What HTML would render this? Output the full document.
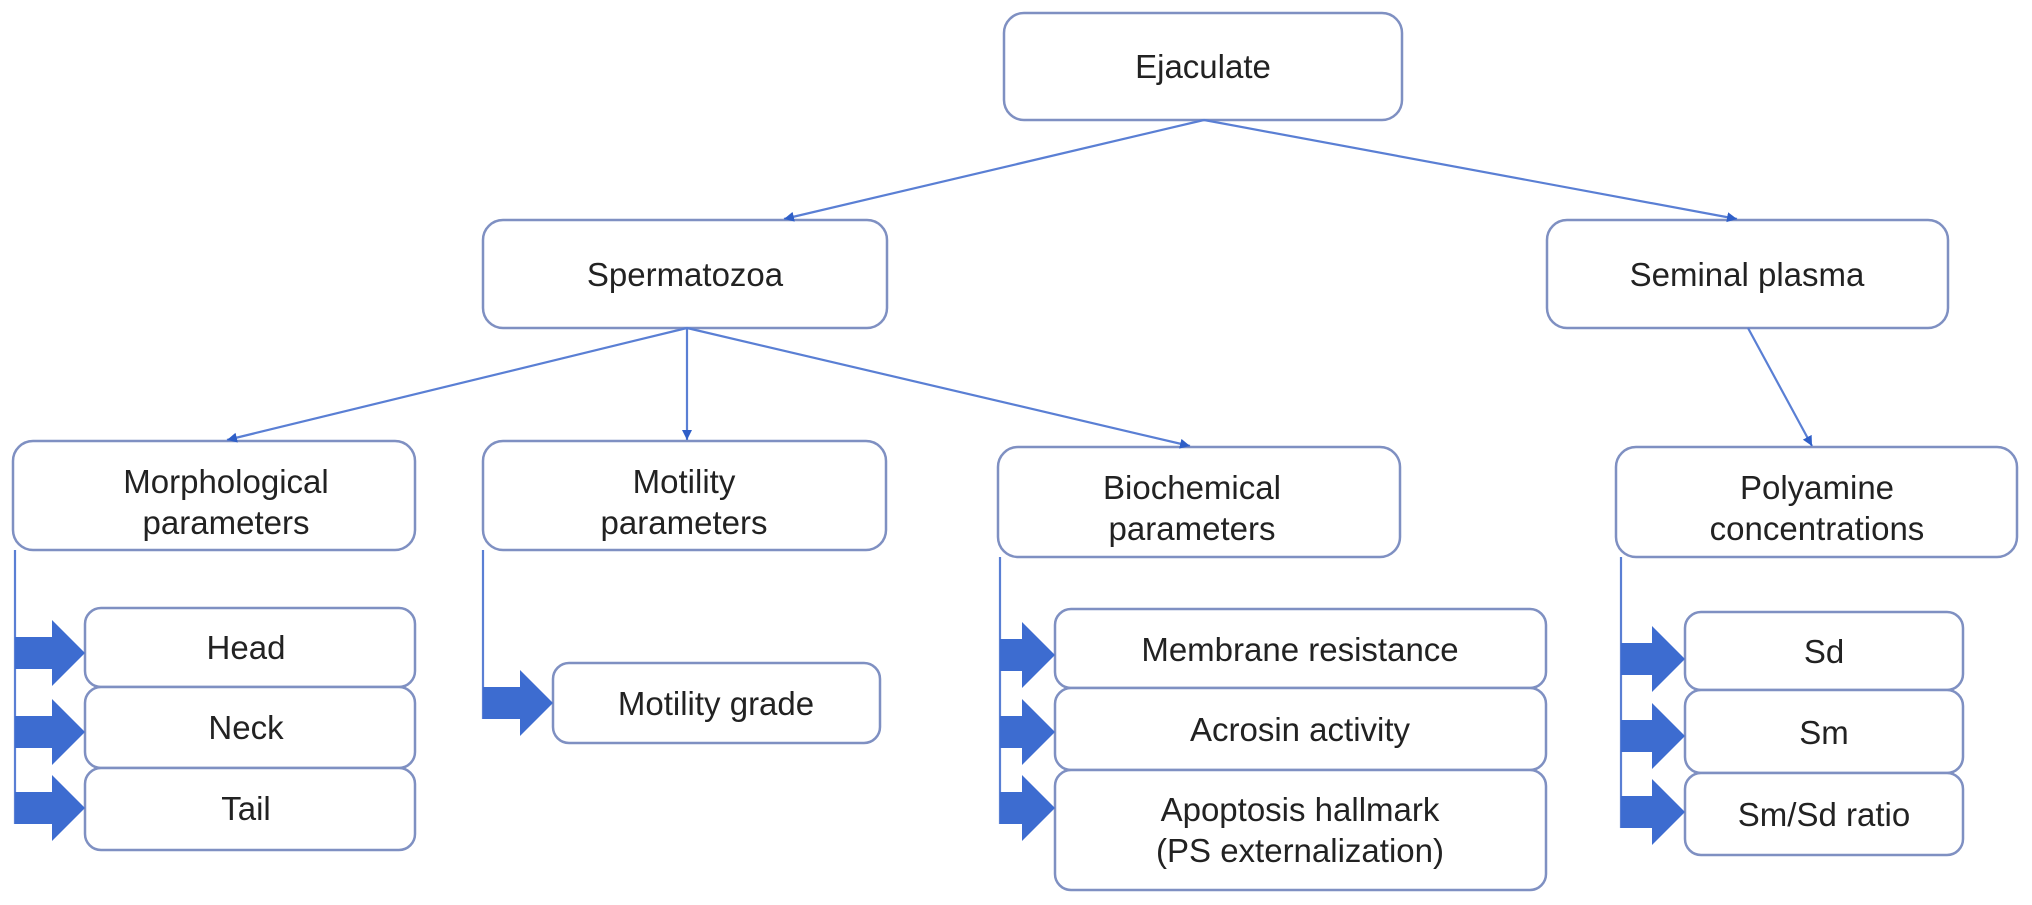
<!DOCTYPE html>
<html><head><meta charset="utf-8"><style>
html,body{margin:0;padding:0;background:#fff;}
svg{display:block;}
text{font-family:"Liberation Sans",Arial,sans-serif;font-size:33px;fill:#222;text-anchor:middle;}
</style></head><body>
<svg width="2032" height="905" viewBox="0 0 2032 905" xmlns="http://www.w3.org/2000/svg">
<defs>
<marker id="ah" markerWidth="12" markerHeight="12" refX="10" refY="5" orient="auto" markerUnits="userSpaceOnUse">
<path d="M0,0 L10,5 L0,10 z" fill="#2f5fc8"/>
</marker>
</defs>
<g fill="#fff" stroke="#7f90c2" stroke-width="2.5">
<rect x="1004" y="13" width="398" height="107" rx="20"/>
<rect x="483" y="220" width="404" height="108" rx="20"/>
<rect x="1547" y="220" width="401" height="108" rx="20"/>
<rect x="13" y="441" width="402" height="109" rx="20"/>
<rect x="483" y="441" width="403" height="109" rx="20"/>
<rect x="998" y="447" width="402" height="110" rx="20"/>
<rect x="1616" y="447" width="401" height="110" rx="20"/>
<rect x="85" y="608" width="330" height="79" rx="16"/>
<rect x="85" y="687" width="330" height="81" rx="16"/>
<rect x="85" y="768" width="330" height="82" rx="16"/>
<rect x="553" y="663" width="327" height="80" rx="16"/>
<rect x="1055" y="609" width="491" height="79" rx="16"/>
<rect x="1055" y="688" width="491" height="82" rx="16"/>
<rect x="1055" y="770" width="491" height="120" rx="16"/>
<rect x="1685" y="612" width="278" height="78" rx="16"/>
<rect x="1685" y="690" width="278" height="83" rx="16"/>
<rect x="1685" y="773" width="278" height="82" rx="16"/>
</g>
<g stroke="#5a7fd4" stroke-width="2.2" fill="none">
<line x1="1204" y1="120" x2="784" y2="219" marker-end="url(#ah)"/>
<line x1="1204" y1="120" x2="1737" y2="219" marker-end="url(#ah)"/>
<line x1="687" y1="328" x2="227" y2="440" marker-end="url(#ah)"/>
<line x1="687" y1="328" x2="687" y2="440" marker-end="url(#ah)"/>
<line x1="687" y1="328" x2="1190" y2="446" marker-end="url(#ah)"/>
<line x1="1748" y1="328" x2="1812" y2="446" marker-end="url(#ah)"/>
<line x1="15" y1="550" x2="15" y2="824"/>
<line x1="483" y1="550" x2="483" y2="719"/>
<line x1="1000" y1="557" x2="1000" y2="824"/>
<line x1="1621" y1="557" x2="1621" y2="828"/>
</g>
<g fill="#3d6cd0">
<path d="M15,637 H52 V620 L85,653 L52,686 V669 H15 Z"/>
<path d="M15,716 H52 V699 L85,732 L52,765 V748 H15 Z"/>
<path d="M15,792 H52 V775 L85,808 L52,841 V824 H15 Z"/>
<path d="M483,687 H520 V670 L553,703 L520,736 V719 H483 Z"/>
<path d="M1000,639 H1022 V622 L1055,655 L1022,688 V671 H1000 Z"/>
<path d="M1000,716 H1022 V699 L1055,732 L1022,765 V748 H1000 Z"/>
<path d="M1000,792 H1022 V775 L1055,808 L1022,841 V824 H1000 Z"/>
<path d="M1621,643 H1652 V626 L1685,659 L1652,692 V675 H1621 Z"/>
<path d="M1621,720 H1652 V703 L1685,736 L1652,769 V752 H1621 Z"/>
<path d="M1621,796 H1652 V779 L1685,812 L1652,845 V828 H1621 Z"/>
</g>
<text x="1203" y="78">Ejaculate</text>
<text x="685" y="286">Spermatozoa</text>
<text x="1747" y="286">Seminal plasma</text>
<text x="226" y="493">Morphological</text>
<text x="226" y="534">parameters</text>
<text x="684" y="493">Motility</text>
<text x="684" y="534">parameters</text>
<text x="1192" y="499">Biochemical</text>
<text x="1192" y="540">parameters</text>
<text x="1817" y="499">Polyamine</text>
<text x="1817" y="540">concentrations</text>
<text x="246" y="659">Head</text>
<text x="246" y="739">Neck</text>
<text x="246" y="820">Tail</text>
<text x="716" y="715">Motility grade</text>
<text x="1300" y="661">Membrane resistance</text>
<text x="1300" y="741">Acrosin activity</text>
<text x="1300" y="821">Apoptosis hallmark</text>
<text x="1300" y="862">(PS externalization)</text>
<text x="1824" y="663">Sd</text>
<text x="1824" y="744">Sm</text>
<text x="1824" y="826">Sm/Sd ratio</text>
</svg>
</body></html>
